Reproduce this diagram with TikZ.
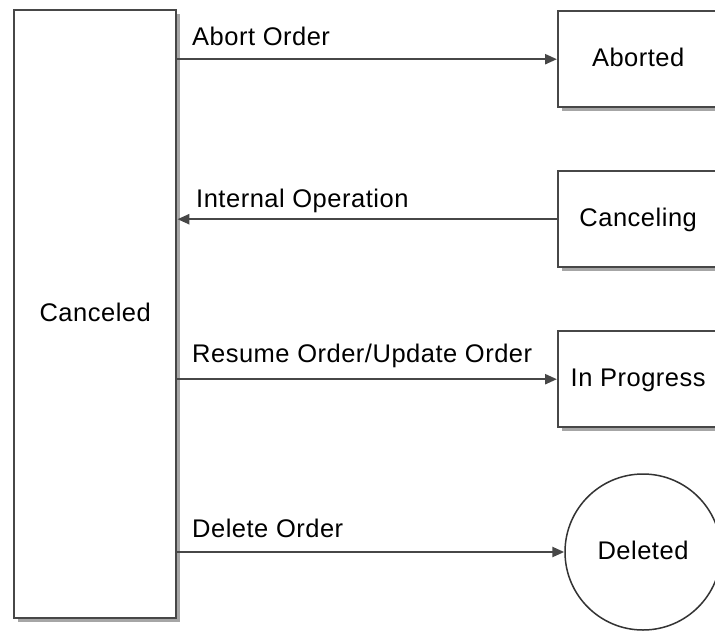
\documentclass[tikz,border=0pt]{standalone}
\usepackage{fontspec}
\setmainfont[LetterSpace=2.0]{Liberation Sans}
\usetikzlibrary{arrows.meta,shadows}
\begin{document}
\begin{tikzpicture}[x=1pt,y=-1pt,
  font=\fontsize{25.5}{30}\selectfont,
  statebox/.style={draw=black!72, line width=2.4pt, fill=white, rectangle,
    anchor=north west, inner sep=0pt, text height=18.3pt, text depth=4pt,
    drop shadow={shadow xshift=4pt, shadow yshift=-4pt, fill=black!35, opacity=1}},
  endcircle/.style={draw=black!80, line width=1.5pt, fill=white, circle,
    inner sep=0pt, minimum size=156pt, text height=18.3pt, text depth=4pt},
  flow/.style={draw=black!72, line width=2.4pt, -{Triangle[length=12pt,width=10pt]}},
  lbl/.style={anchor=base west, inner sep=0pt}]
\useasboundingbox (0,0) rectangle (715,632);
\fill[white] (0,0) rectangle (715,632);
\node[statebox, minimum width=162pt, minimum height=608pt] (canceled) at (13,9) {Canceled};
\node[statebox, minimum width=160pt, minimum height=96pt] (aborted) at (557,10) {Aborted};
\node[statebox, minimum width=160pt, minimum height=96pt] (canceling) at (557,170) {Canceling};
\node[statebox, minimum width=160pt, minimum height=96pt] (inprogress) at (557,330) {In Progress};
\node[endcircle] (deleted) at (643,552) {Deleted};
\draw[flow] (canceled.east |- aborted.west) -- (aborted.west);
\draw[flow] (canceling.west) -- (canceled.east |- canceling.west);
\draw[flow] (canceled.east |- inprogress.west) -- (inprogress.west);
\draw[flow] (canceled.east |- deleted.west) -- (deleted.west);
\node[lbl] (l1) at (192,45) {Abort Order};
\node[lbl] (l2) at (196,207) {Internal Operation};
\node[lbl] (l3) at (192,362) {Resume Order/Update Order};
\node[lbl] (l4) at (192,537) {Delete Order};
\end{tikzpicture}
\end{document}
